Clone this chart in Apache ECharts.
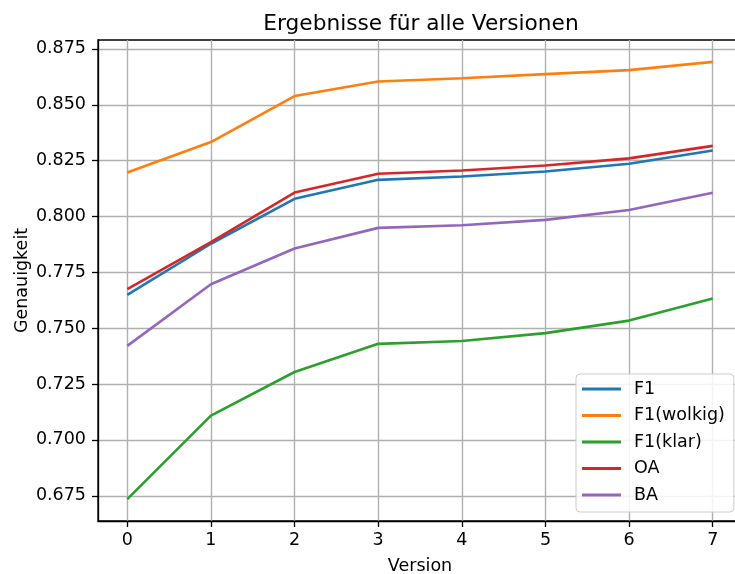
<!DOCTYPE html>
<html>
<head>
<meta charset="utf-8">
<script src="https://cdn.jsdelivr.net/npm/echarts@6/dist/echarts.min.js"></script>
<style>
  html, body { margin: 0; padding: 0; background: #fff; }
  #chart { width: 735px; height: 574px; }
</style>
</head>
<body>
<div id="chart"></div>
<script>
// Accuracy per model version
const versions = [0, 1, 2, 3, 4, 5, 6, 7];
const f1       = [0.7649, 0.7878, 0.8079, 0.8164, 0.8179, 0.8201, 0.8236, 0.8295];
const f1Wolkig = [0.8197, 0.8333, 0.8539, 0.8604, 0.8619, 0.8637, 0.8655, 0.8692];
const f1Klar   = [0.6735, 0.7109, 0.7304, 0.7430, 0.7443, 0.7478, 0.7534, 0.7633];
const oa       = [0.7675, 0.7885, 0.8107, 0.8191, 0.8206, 0.8228, 0.8260, 0.8316];
const ba       = [0.7421, 0.7697, 0.7857, 0.7949, 0.7961, 0.7985, 0.8029, 0.8106];

const seriesNames = ['F1', 'F1(wolkig)', 'F1(klar)', 'OA', 'BA'];
const seriesValues = [f1, f1Wolkig, f1Klar, oa, ba];
const colors = ['#1f77b4', '#ff7f0e', '#2ca02c', '#d62728', '#9467bd'];

const xTicks = [0, 1, 2, 3, 4, 5, 6, 7];
const yTicks = [0.675, 0.700, 0.725, 0.750, 0.775, 0.800, 0.825, 0.850, 0.875];

// 5% padding around the data range on both axes
function padded(lo, hi) {
  const m = (hi - lo) * 0.05;
  return [lo - m, hi + m];
}
const allVals = seriesValues.flat();
const [yMin, yMax] = padded(Math.min(...allVals), Math.max(...allVals));
const [xMin, xMax] = padded(Math.min(...versions), Math.max(...versions));

const FONT = 'DejaVu Sans';
const chart = echarts.init(document.getElementById('chart'), null, { renderer: 'canvas' });

chart.setOption({
  animation: false,
  backgroundColor: '#ffffff',
  color: colors,
  title: {
    text: 'Ergebnisse für alle Versionen',
    left: 416,
    top: 8,
    textAlign: 'center',
    textStyle: { fontFamily: FONT, fontSize: 21.7, fontWeight: 'normal', color: '#000' }
  },
  grid: {
    left: 98,
    right: -7,
    top: 40,
    bottom: 53,
    outerBoundsMode: 'none',
    containLabel: false,
    show: true,
    borderColor: '#000',
    borderWidth: 1.3,
    backgroundColor: 'transparent'
  },
  legend: {
    orient: 'vertical',
    left: 576,
    top: 374,
    icon: 'rect',
    itemWidth: 39,
    itemHeight: 3,
    itemGap: 6.5,
    padding: [5, 9, 7, 6],
    backgroundColor: 'rgba(255,255,255,0.85)',
    borderColor: '#cccccc',
    borderWidth: 1,
    borderRadius: 4,
    data: seriesNames,
    textStyle: {
      fontFamily: FONT,
      fontSize: 17.5,
      lineHeight: 20,
      color: '#000',
      padding: [0, 0, 0, 8]
    }
  },
  xAxis: {
    type: 'value',
    min: xMin,
    max: xMax,
    name: 'Version',
    nameLocation: 'middle',
    nameGap: 36,
    nameMoveOverlap: false,
    nameTextStyle: { fontFamily: FONT, fontSize: 17.5, color: '#000' },
    axisLine: { show: true, onZero: false, lineStyle: { color: '#000', width: 1.3 } },
    axisTick: { show: true, length: 6, customValues: xTicks, lineStyle: { color: '#000', width: 1.3 } },
    axisLabel: {
      customValues: xTicks,
      margin: 10,
      fontFamily: FONT, fontSize: 17.5, color: '#000',
      formatter: v => String(v)
    },
    splitLine: { show: true, lineStyle: { color: '#b0b0b0', width: 1.4 } }
  },
  yAxis: {
    type: 'value',
    min: yMin,
    max: yMax,
    name: 'Genauigkeit',
    nameLocation: 'middle',
    nameGap: 67,
    nameMoveOverlap: false,
    nameTextStyle: { fontFamily: FONT, fontSize: 17.5, color: '#000' },
    axisLine: { show: true, onZero: false, lineStyle: { color: '#000', width: 1.3 } },
    axisTick: { show: true, length: 6, customValues: yTicks, lineStyle: { color: '#000', width: 1.3 } },
    axisLabel: {
      customValues: yTicks,
      margin: 12,
      fontFamily: FONT, fontSize: 17.5, color: '#000',
      formatter: v => v.toFixed(3)
    },
    splitLine: { show: true, lineStyle: { color: '#b0b0b0', width: 1.4 } }
  },
  series: seriesNames.map((name, i) => ({
    name: name,
    type: 'line',
    data: versions.map((v, j) => [v, seriesValues[i][j]]),
    showSymbol: false,
    symbol: 'none',
    z: 2 + i,
    lineStyle: { width: 2.6, color: colors[i] },
    itemStyle: { color: colors[i] }
  }))
});
</script>
</body>
</html>
